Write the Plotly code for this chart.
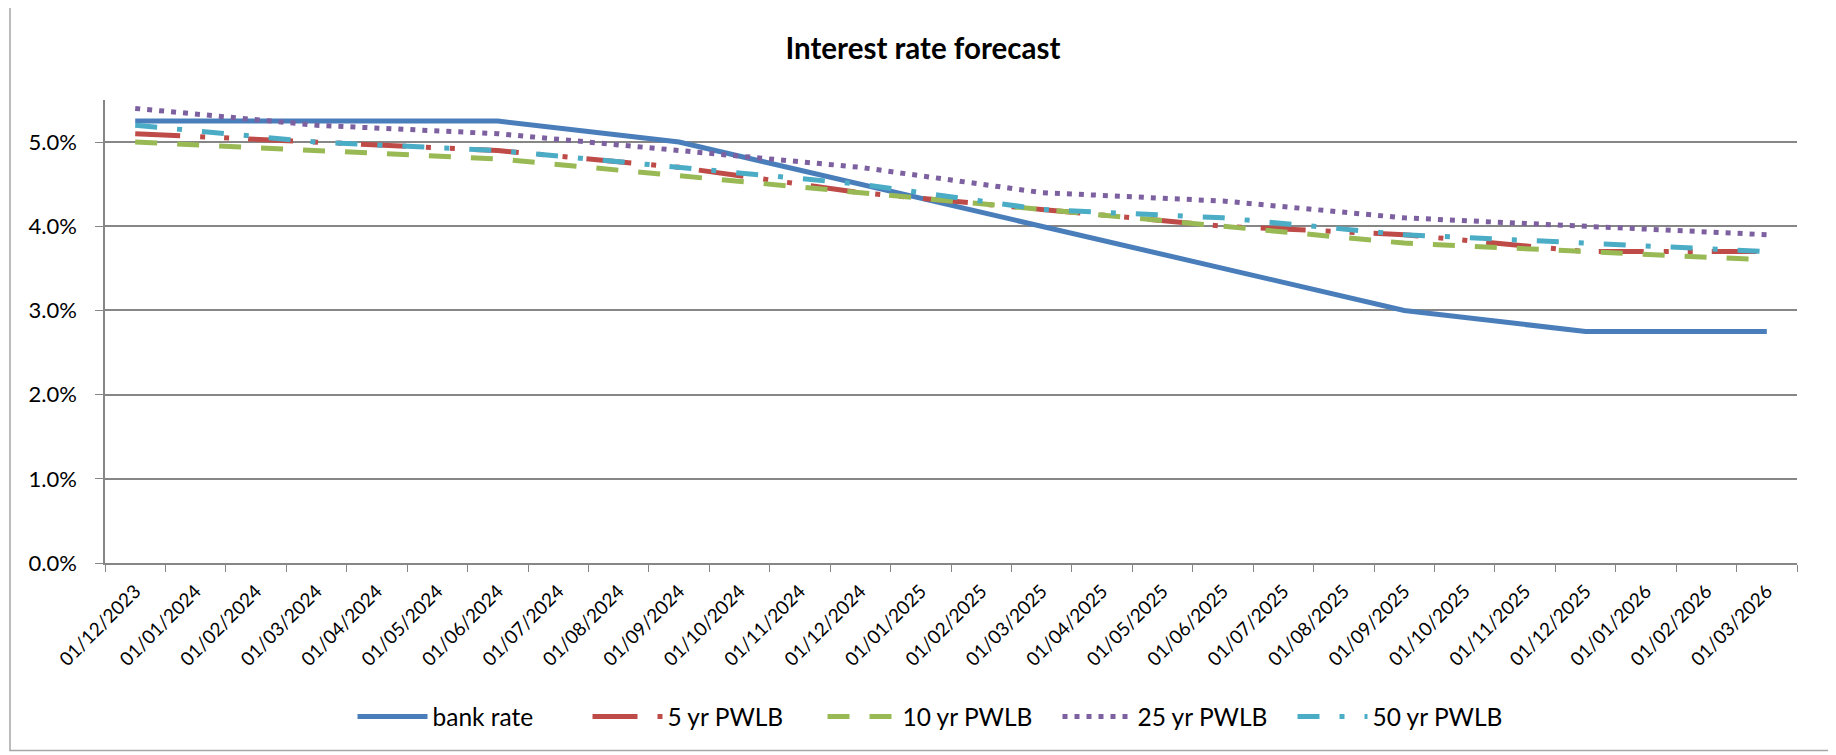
import plotly.graph_objects as go

months = ['01/12/2023', '01/01/2024', '01/02/2024', '01/03/2024', '01/04/2024', '01/05/2024',
          '01/06/2024', '01/07/2024', '01/08/2024', '01/09/2024', '01/10/2024', '01/11/2024',
          '01/12/2024', '01/01/2025', '01/02/2025', '01/03/2025', '01/04/2025', '01/05/2025',
          '01/06/2025', '01/07/2025', '01/08/2025', '01/09/2025', '01/10/2025', '01/11/2025',
          '01/12/2025', '01/01/2026', '01/02/2026', '01/03/2026']

quarters = ['01/12/2023', '01/03/2024', '01/06/2024', '01/09/2024', '01/12/2024',
            '01/03/2025', '01/06/2025', '01/09/2025', '01/12/2025', '01/03/2026']

bank_rate = [5.25, 5.25, 5.25, 5.00, 4.50, 4.00, 3.50, 3.00, 2.75, 2.75]
pwlb_5yr = [5.10, 5.00, 4.90, 4.70, 4.40, 4.20, 4.00, 3.90, 3.70, 3.70]
pwlb_10yr = [5.00, 4.90, 4.80, 4.60, 4.40, 4.20, 4.00, 3.80, 3.70, 3.60]
pwlb_25yr = [5.40, 5.20, 5.10, 4.90, 4.70, 4.40, 4.30, 4.10, 4.00, 3.90]
pwlb_50yr = [5.20, 5.00, 4.90, 4.70, 4.50, 4.20, 4.10, 3.90, 3.80, 3.70]

y_ticks = [0, 1, 2, 3, 4, 5]
y_tick_labels = ['0.0%', '1.0%', '2.0%', '3.0%', '4.0%', '5.0%']

series = [
    ('bank rate', bank_rate, '#4A7EBB', 'solid'),
    ('5 yr PWLB', pwlb_5yr, '#BE4B48', '45px,20px,5px,19px,5px,19px'),
    ('10 yr PWLB', pwlb_10yr, '#98B954', '22px,20px'),
    ('25 yr PWLB', pwlb_25yr, '#7D60A0', '5px,7px'),
    ('50 yr PWLB', pwlb_50yr, '#4BACC6', '22px,20px,5px,20px'),
]

FONT = 'Lato, Carlito, Calibri, sans-serif'

fig = go.Figure()
for name, vals, color, dash in series:
    fig.add_trace(go.Scatter(
        x=quarters, y=vals, name=name, mode='lines',
        line=dict(color=color, width=5, dash=dash),
    ))

# page has an 8px body margin; figure placed at (8, 8)
OFF = 8
W, H = 1836 - OFF, 755 - OFF
PL, PR, PT, PB = 105, 1797, 100, 563.3   # plot area in page pixels
L, R, T = PL - OFF, W - (PR - OFF), PT - OFF
B = H - (PB - OFF)
pw = W - L - R
ph = H - T - B

def px_x(x):
    return (x - OFF - L) / pw

def px_y(y):
    return (H - B - (y - OFF)) / ph

fig.update_layout(
    width=W, height=H,
    margin=dict(l=L, r=R, t=T, b=B, pad=0),
    paper_bgcolor='white', plot_bgcolor='white',
    font=dict(family=FONT, color='#000000', size=19),
    title=dict(text='<b>Interest rate forecast</b>', x=(923 - OFF) / W, xref='container',
               xanchor='center', y=1 - (49 - OFF) / H, yref='container', yanchor='middle',
               font=dict(family=FONT, size=29.5, color='#000000')),
    showlegend=True,
    legend=dict(orientation='h', x=px_x(940), xanchor='center', y=px_y(717), yanchor='middle',
                font=dict(family=FONT, size=24.5, color='#000000'), entrywidth=150,
                itemwidth=70, bgcolor='rgba(0,0,0,0)'),
    xaxis=dict(type='category', categoryorder='array', categoryarray=months,
               tickvals=months, ticktext=months, range=[-0.5, len(months) - 0.5],
               tickangle=-45, tickson='boundaries', ticks='outside', ticklen=7,
               tickcolor='#868686', showline=True, linecolor='#868686', linewidth=1.5,
               showgrid=False, zeroline=False, ticklabelstandoff=8,
               tickfont=dict(family=FONT, size=19, color='#000000'), fixedrange=True),
    yaxis=dict(range=[0, 5.5], tickvals=y_ticks, ticktext=y_tick_labels,
               ticks='outside', ticklen=8, tickcolor='#868686', showline=True,
               linecolor='#868686', linewidth=1.5, showgrid=True, gridcolor='#868686',
               gridwidth=1.5, zeroline=False, ticklabelstandoff=14,
               tickfont=dict(family=FONT, size=22, color='#000000'), fixedrange=True),
    shapes=[dict(type='rect', xref='paper', yref='paper',
                 x0=px_x(10), x1=px_x(1830), y0=px_y(751), y1=px_y(7),
                 line=dict(color='#A6A6A6', width=1.5), fillcolor='rgba(0,0,0,0)', layer='below')],
)

fig.write_html('out.html', config={'displayModeBar': False})
